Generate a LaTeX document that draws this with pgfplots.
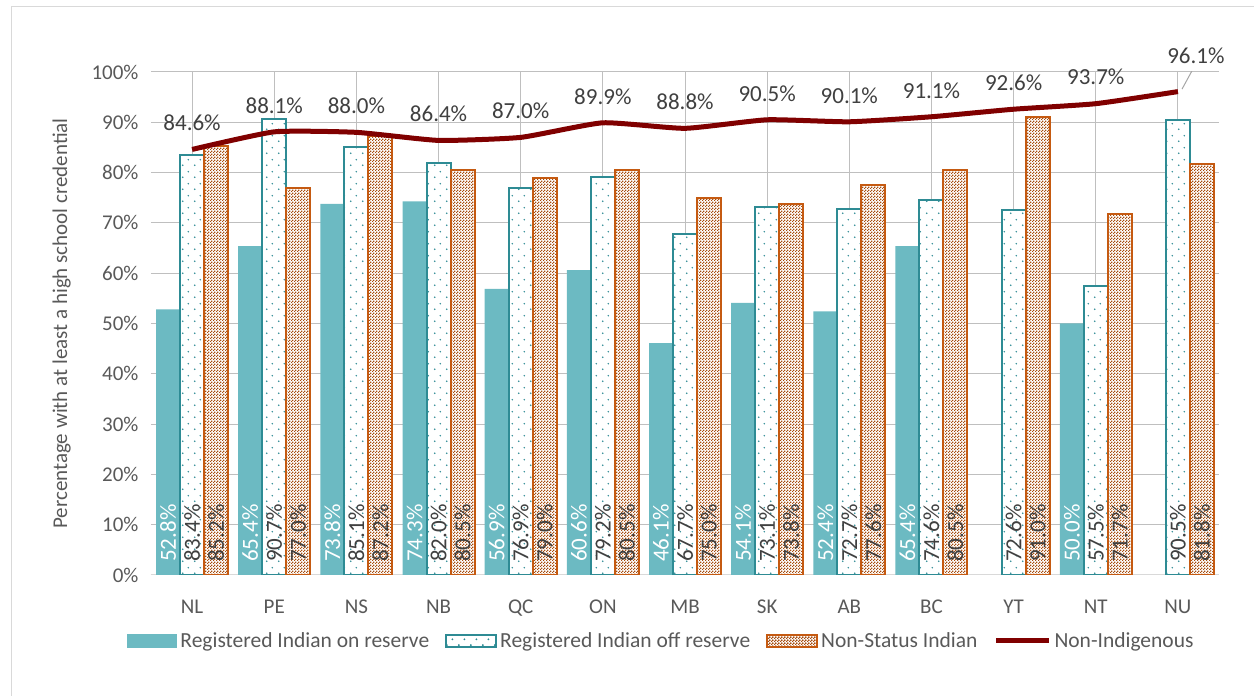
\documentclass[border=0pt]{standalone}
\usepackage{pgfplots}
\usepackage{pgfplotstable}
\pgfplotsset{compat=1.18}
\usetikzlibrary{patterns}
\usepackage{fontspec}
\setmainfont{Carlito}
\definecolor{teal1}{HTML}{6CBAC2}
\definecolor{teal2}{HTML}{2E8B94}
\definecolor{orng}{HTML}{C55A11}
\definecolor{dred}{HTML}{800000}
\definecolor{txt}{HTML}{404040}
\definecolor{tick}{HTML}{595959}
\definecolor{grid}{HTML}{D9D9D9}
\pgfdeclarepatternformonly{finecheck}{\pgfqpoint{0pt}{0pt}}{\pgfqpoint{3pt}{3pt}}{\pgfqpoint{3pt}{3pt}}{%
  \pgfpathrectangle{\pgfqpoint{0pt}{0pt}}{\pgfqpoint{1.5pt}{1.5pt}}%
  \pgfpathrectangle{\pgfqpoint{1.5pt}{1.5pt}}{\pgfqpoint{1.5pt}{1.5pt}}%
  \pgfusepath{fill}}
\pgfdeclarepatternformonly{sparsedots}{\pgfqpoint{0pt}{0pt}}{\pgfqpoint{12pt}{12pt}}{\pgfqpoint{12pt}{12pt}}{%
  \pgfpathcircle{\pgfqpoint{3pt}{3pt}}{0.9pt}%
  \pgfpathcircle{\pgfqpoint{9pt}{9pt}}{0.9pt}%
  \pgfusepath{fill}}
\pgfkeys{/pgf/number format/assume math mode=true}
% x: 0=NL 1=PE 2=NS 3=NB 4=QC 5=ON 6=MB 7=SK 8=AB 9=BC 10=YT 11=NT 12=NU
\pgfplotstableread{
x v
0 52.8
1 65.4
2 73.8
3 74.3
4 56.9
5 60.6
6 46.1
7 54.1
8 52.4
9 65.4
11 50.0
}\onres
\pgfplotstableread{
x v
0 83.4
1 90.7
2 85.1
3 82.0
4 76.9
5 79.2
6 67.7
7 73.1
8 72.7
9 74.6
10 72.6
11 57.5
12 90.5
}\offres
\pgfplotstableread{
x v
0 85.2
1 77.0
2 87.2
3 80.5
4 79.0
5 80.5
6 75.0
7 73.8
8 77.6
9 80.5
10 91.0
11 71.7
12 81.8
}\nonstatus
\pgfplotstableread{
x v
0 84.6
1 88.1
2 88.0
3 86.4
4 87.0
5 89.9
6 88.8
7 90.5
8 90.1
9 91.1
10 92.6
11 93.7
12 96.1
}\nonind
\begin{document}
\begin{tikzpicture}
\path[use as bounding box] (0,0) rectangle (1254pt,696pt);
\draw[grid, line width=1pt] (11pt,-20pt) rectangle (1280pt,689pt);
\begin{axis}[
  at={(151pt,121pt)}, anchor=south west,
  scale only axis, width=1068pt, height=503pt,
  xmin=-0.5, xmax=12.5, ymin=0, ymax=100,
  axis line style={draw=none},
  xtick={0,...,12},
  xticklabels={NL,PE,NS,NB,QC,ON,MB,SK,AB,BC,YT,NT,NU},
  ytick={0,10,...,100},
  yticklabels={0\%,10\%,20\%,30\%,40\%,50\%,60\%,70\%,80\%,90\%,100\%},
  major tick length=0pt,
  ymajorgrids, grid style={grid, line width=1pt},
  ticklabel style={font=\fontsize{21}{24}\selectfont, text=tick},
  yticklabel style={xshift=-9pt},
  xticklabel style={yshift=-21pt},
  ylabel={Percentage with at least a high school credential},
  ylabel style={font=\fontsize{21}{24}\selectfont, text=tick, yshift=14pt},
  legend style={draw=none, fill=none, at={(0.478,-0.131)}, anchor=center,
    font=\fontsize{21.5}{24}\selectfont, text=tick, legend columns=4,
    /tikz/every odd column/.append style={column sep=1pt},
    /tikz/every even column/.append style={column sep=14pt}},
  legend cell align=left,
  nodes near coords={\pgfmathprintnumber[fixed,fixed zerofill,precision=1]{\pgfplotspointmeta}\%},
]
\draw[grid, line width=1.5pt] (axis cs:-0.5,0) -- (axis cs:12.5,0);
% on reserve
\addplot[ybar, bar width=24pt, bar shift=-24pt, fill=teal1, draw=none, nodes near coords={},
  legend image code/.code={\fill[teal1] (0pt,-7pt) rectangle (50pt,7pt);}]
  table[x=x, y=v]{\onres};
\addlegendentry{Registered Indian on reserve}
% off reserve
\addplot[ybar, bar width=24pt, bar shift=0pt, fill=white, draw=teal2, line width=2pt, nodes near coords={},
  postaction={pattern=sparsedots, pattern color=teal2},
  legend image code/.code={\draw[fill=white, draw=teal2, line width=2pt, postaction={pattern=sparsedots, pattern color=teal2}] (0pt,-6pt) rectangle (50pt,6pt);}]
  table[x=x, y=v]{\offres};
\addlegendentry{Registered Indian off reserve}
% non-status
\addplot[ybar, bar width=24pt, bar shift=24pt, fill=white, draw=orng, line width=2pt, nodes near coords={},
  postaction={pattern=finecheck, pattern color=orng!85!black},
  legend image code/.code={\draw[fill=white, draw=orng, line width=2pt, postaction={pattern=finecheck, pattern color=orng!85!black}] (0pt,-6pt) rectangle (50pt,6pt);}]
  table[x=x, y=v]{\nonstatus};
\addlegendentry{Non-Status Indian}
% non-indigenous
\addplot[dred, line width=5pt, smooth, tension=0.3, mark=none,
  legend image code/.code={\draw[dred, line width=5pt] (0pt,0pt) -- (53pt,0pt);},
  point meta=explicit,
  nodes near coords style={font=\fontsize{23}{24}\selectfont, text=txt, anchor=south, inner sep=0pt, yshift=16pt},
  coordinate style/.condition={x>11.5}{xshift=18pt, yshift=9pt}]
  table[x=x, y=v, meta=v]{\nonind};
\addlegendentry{Non-Indigenous}
% in-bar labels
\addplot[draw=none, mark=none, forget plot, point meta=explicit,
  nodes near coords style={xshift=-24pt, rotate=90, anchor=west, inner sep=0pt,
    font=\fontsize{23}{24}\selectfont, text=white}]
  table[x=x, y expr=2.6, meta=v]{\onres};
\addplot[draw=none, mark=none, forget plot, point meta=explicit,
  nodes near coords style={rotate=90, anchor=west, inner sep=0pt,
    font=\fontsize{23}{24}\selectfont, text=txt}]
  table[x=x, y expr=2.6, meta=v]{\offres};
\addplot[draw=none, mark=none, forget plot, point meta=explicit,
  nodes near coords style={xshift=24pt, rotate=90, anchor=west, inner sep=0pt,
    font=\fontsize{23}{24}\selectfont, text=txt}]
  table[x=x, y expr=2.6, meta=v]{\nonstatus};
\draw[gray!70, line width=1pt] (axis cs:12.05,96.6) -- (axis cs:12.18,100.5);
\end{axis}
\end{tikzpicture}
\end{document}
